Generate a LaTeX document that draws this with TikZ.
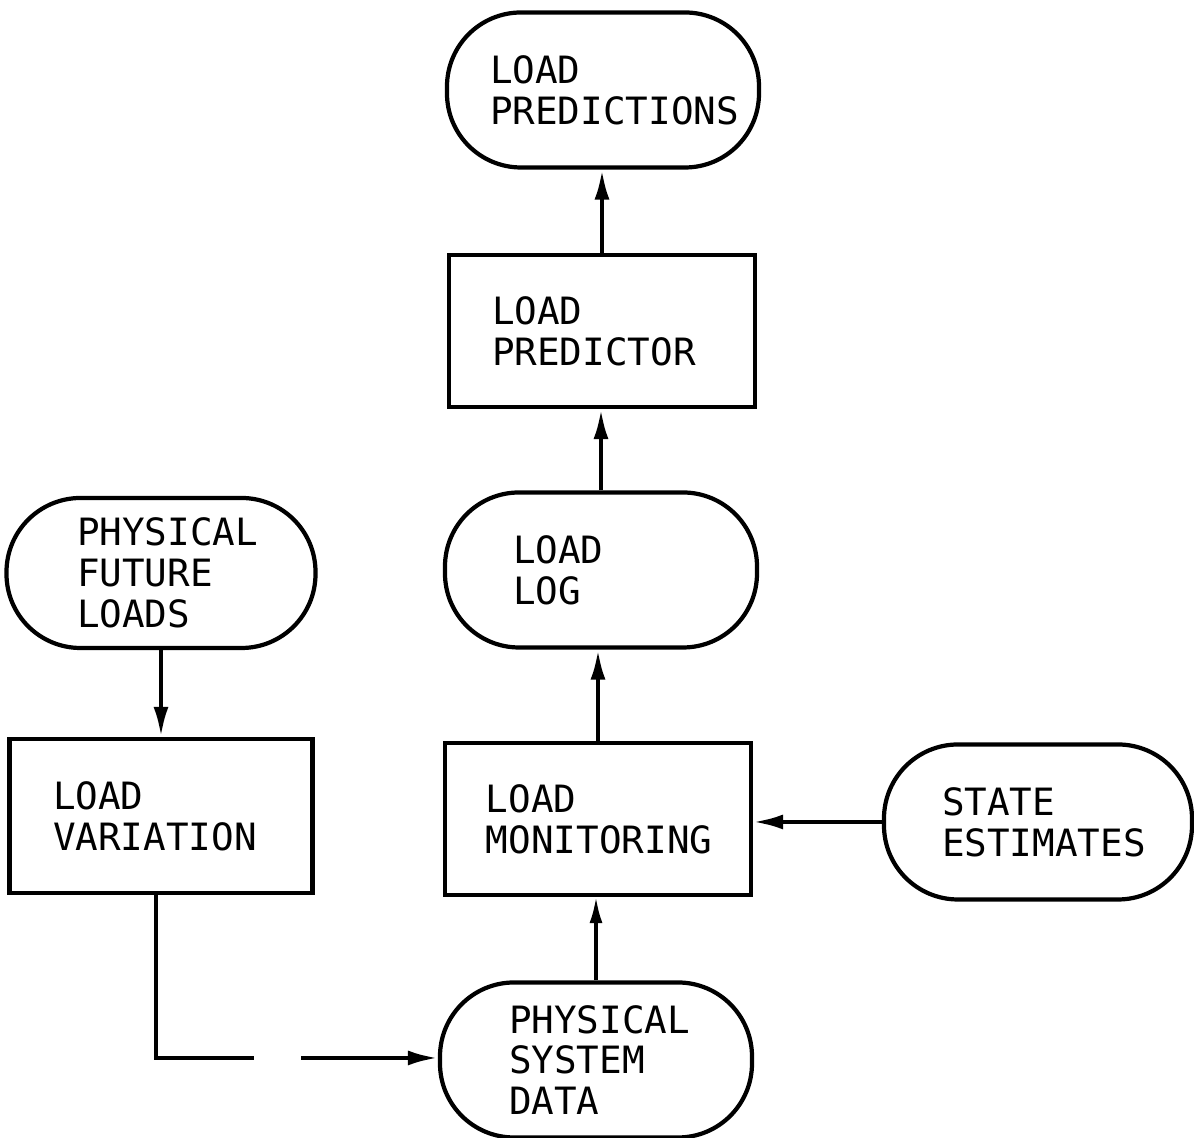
\documentclass[tikz,border=0pt]{standalone}
\usepackage{fontspec}
\newfontfamily\plotfont{DejaVu Sans Mono}
\usetikzlibrary{arrows.meta}
\hfuzz=40pt
\hbadness=10000

\tikzset{
  box/.style={draw, line width=1.2pt, align=left, inner sep=0pt,
    font=\plotfont\fontsize{10.7}{11.6}\selectfont},
  process/.style={box, rectangle, minimum width=3.06cm, minimum height=1.52cm},
  terminal/.style={box, rectangle, rounded corners=0.74cm, minimum width=3.12cm, minimum height=1.55cm},
  flow/.style={line width=1.2pt, -{Latex[length=3mm,width=1.5mm]}},
  thinflow/.style={line width=0.9pt, -{Latex[length=2.6mm,width=1.3mm]}}
}

\begin{document}
\begin{tikzpicture}

\useasboundingbox (0,0) rectangle (11.94,11.38);

% Centre column
\node[terminal, text width=2.26cm] (predictions) at (6.03,10.48) {LOAD\\PREDICTIONS};
\node[process, text width=2.20cm] (predictor) at (6.02,8.07) {LOAD\\PREDICTOR};
\node[terminal, text width=1.76cm] (log) at (6.01,5.68) {LOAD\\LOG};
\node[process, text width=2.24cm] (monitoring) at (5.98,3.19) {LOAD\\MONITORING};
\node[terminal, text width=1.74cm] (sysdata) at (5.96,0.78) {PHYSICAL\\SYSTEM\\DATA};

% Side inputs
\node[terminal, text width=1.92cm, minimum width=3.08cm] (estimates) at (10.38,3.16) {STATE\\ESTIMATES};
\node[terminal, text width=1.68cm, minimum width=3.09cm, minimum height=1.50cm] (future) at (1.61,5.65) {PHYSICAL\\FUTURE\\LOADS};
\node[process, text width=2.16cm, minimum width=3.03cm, minimum height=1.54cm] (variation) at (1.61,3.22) {LOAD\\VARIATION};

% Connectors
\draw[flow] (predictor.north) -- (predictor.north |- predictions.south);
\draw[flow] (log.north) -- (log.north |- predictor.south);
\draw[flow] (monitoring.north) -- (monitoring.north |- log.south);
\draw[thinflow] (sysdata.north) -- (sysdata.north |- monitoring.south);
\draw[flow] (estimates.west) -- (estimates.west -| monitoring.east);
\draw[flow] (future.south) -- (future.south |- variation.north);

\coordinate (gapleft) at (2.54,0.80);
\coordinate (gapright) at (3.01,0.80);
\draw[line width=0.9pt] ([xshift=-0.05cm]variation.south) |- (gapleft);
\draw[flow] (gapright) -- (gapright -| sysdata.west);

\end{tikzpicture}
\end{document}
